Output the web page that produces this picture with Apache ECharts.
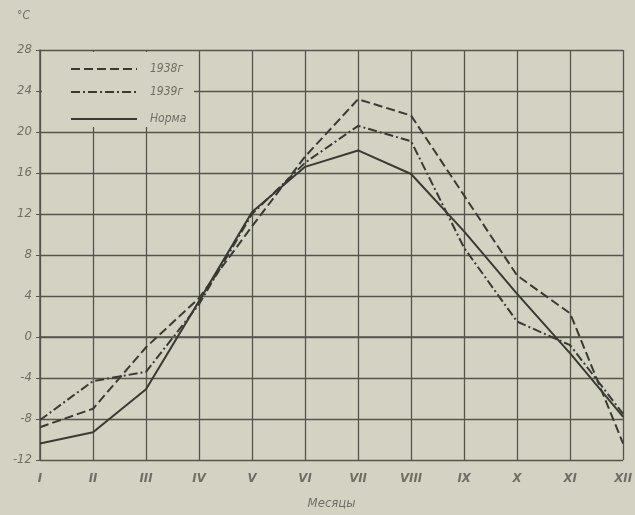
<!DOCTYPE html>
<html>
<head>
<meta charset="utf-8">
<script src="https://cdn.jsdelivr.net/npm/echarts@6/dist/echarts.min.js"></script>
<style>
html,body{margin:0;padding:0;background:#d4d3c3;}
#c{width:635px;height:515px;}
</style>
</head>
<body>
<div id="c"></div>
<script>
const months = ['I','II','III','IV','V','VI','VII','VIII','IX','X','XI','XII'];
const y1938 = [-8.8, -7.0, -1.0, 3.8, 10.8, 17.6, 23.2, 21.6, 13.8, 6.0, 2.3, -10.4];
const y1939 = [-8.1, -4.3, -3.4, 3.2, 12.0, 17.0, 20.6, 19.1, 8.7, 1.5, -0.8, -7.5];
const yNorm = [-10.4, -9.3, -5.1, 3.5, 12.2, 16.6, 18.2, 15.9, 10.3, 4.2, -1.6, -7.8];
const seriesNames = ['1938г', '1939г', 'Норма'];
const yMin = -12, yMax = 28, yStep = 4;

const ink = '#3a3a35';
const gridInk = '#55554e';
const labelInk = '#6e6e66';
const paper = '#d4d3c3';
const font = "'Liberation Sans Narrow', 'DejaVu Sans Condensed', sans-serif";

const chart = echarts.init(document.getElementById('c'), null, {renderer: 'canvas'});

function legendAt(name, top) {
  return {
    data: [name], left: 70, top: top, itemWidth: 66, itemHeight: 8, itemGap: 0,
    padding: 0,
    itemStyle: {opacity: 0, borderWidth: 0},
    textStyle: {color: labelInk, fontStyle: 'italic', fontFamily: font, fontSize: 12, padding: [0,0,0,8]}
  };
}

chart.setOption({
  backgroundColor: paper,
  animation: false,
  grid: {left: 40, right: 8, top: 50, bottom: 52, containLabel: false},
  graphic: [{
    type: 'rect', z: 1, left: 42, top: 52,
    shape: {width: 152, height: 75},
    style: {fill: paper}
  }],
  legend: [legendAt(seriesNames[0], 63), legendAt(seriesNames[1], 86), legendAt(seriesNames[2], 113)],
  xAxis: {
    type: 'category', data: months, boundaryGap: false,
    name: 'Месяцы', nameLocation: 'middle', nameGap: 37,
    nameTextStyle: {color: labelInk, fontStyle: 'italic', fontFamily: font, fontSize: 13},
    axisLine: {show: true, lineStyle: {color: gridInk, width: 1.5}},
    axisTick: {show: false},
    axisLabel: {color: labelInk, fontStyle: 'italic', fontFamily: font, fontSize: 13, margin: 12, fontWeight: 'bold'},
    splitLine: {show: true, lineStyle: {color: gridInk, width: 1.3}}
  },
  yAxis: {
    type: 'value', min: yMin, max: yMax, interval: yStep,
    name: '°C', nameLocation: 'end', nameGap: 28,
    nameTextStyle: {color: labelInk, fontStyle: 'italic', fontFamily: font, fontSize: 12, align: 'right', padding: [0, 10, 0, 0]},
    axisLine: {show: true, lineStyle: {color: gridInk, width: 1.5}},
    axisTick: {show: true, length: 4, lineStyle: {color: gridInk}},
    axisLabel: {color: labelInk, fontStyle: 'italic', fontFamily: font, fontSize: 13, margin: 8},
    splitLine: {show: true, lineStyle: {color: gridInk, width: 1.3}}
  },
  series: [
    {name: seriesNames[0], type: 'line', data: y1938, symbol: 'none', z: 3,
     lineStyle: {color: ink, width: 2, type: [9, 4]}, itemStyle: {color: ink}},
    {name: seriesNames[1], type: 'line', data: y1939, symbol: 'none', z: 3,
     lineStyle: {color: ink, width: 2, type: [9, 3, 2, 3]}, itemStyle: {color: ink}},
    {name: seriesNames[2], type: 'line', data: yNorm, symbol: 'none', z: 3,
     lineStyle: {color: ink, width: 2}, itemStyle: {color: ink}}
  ]
});
</script>
</body>
</html>
